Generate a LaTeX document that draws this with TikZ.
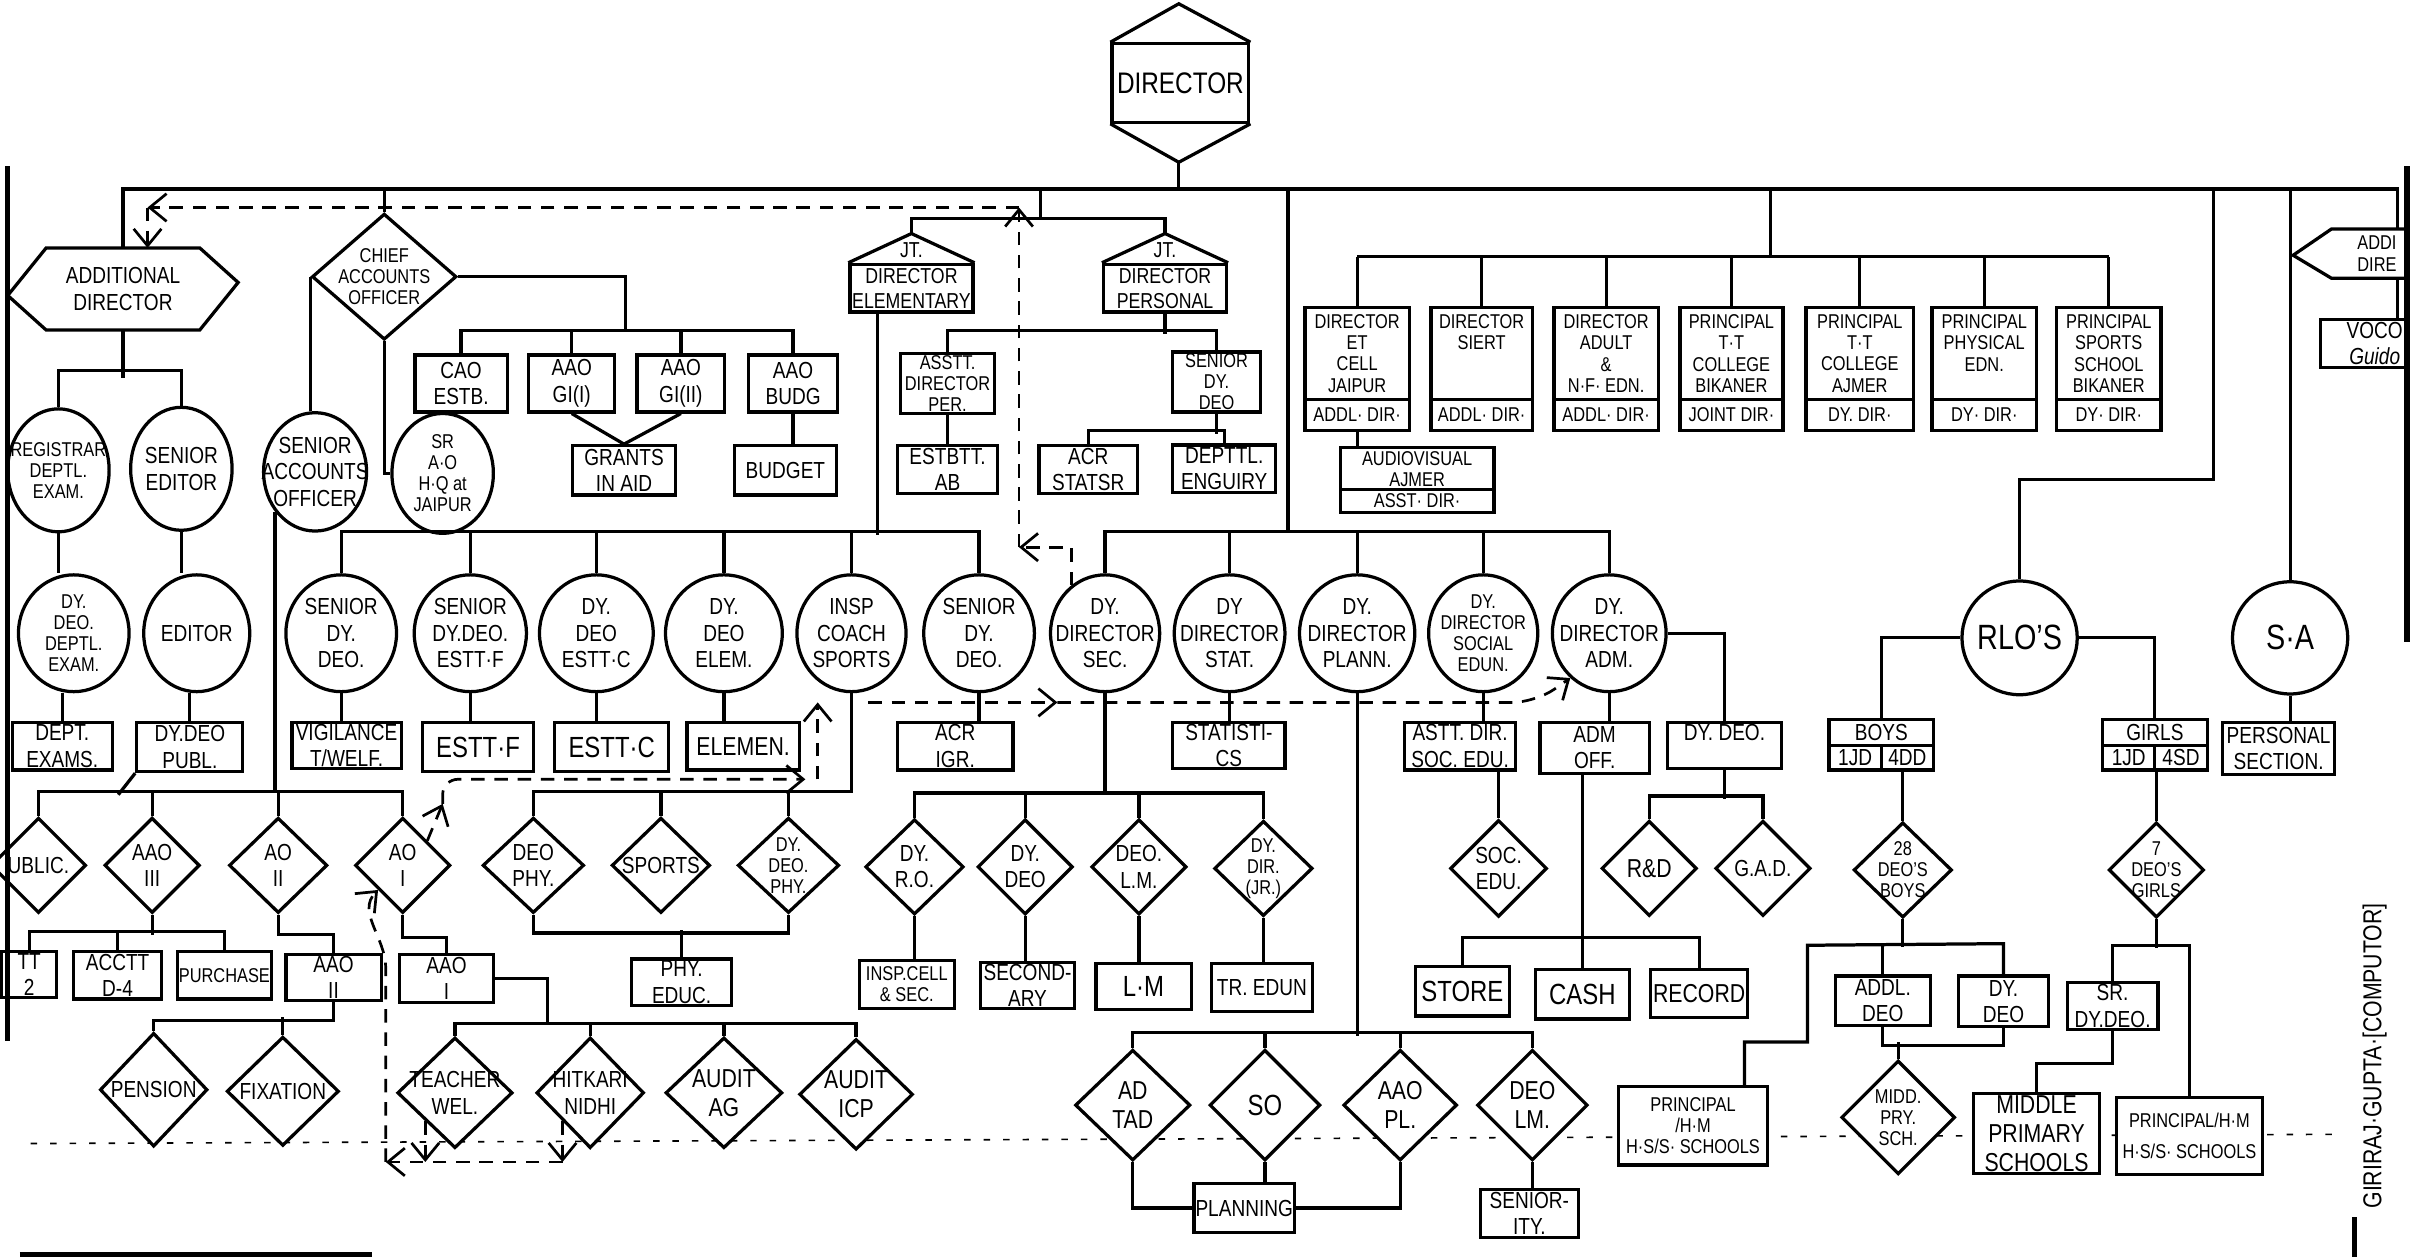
\documentclass[tikz,border=0pt]{standalone}
\usepackage{fontspec}
\setmainfont{Liberation Sans}[FakeStretch=0.82]
\usetikzlibrary{shapes.geometric,arrows.meta}

\begin{document}
\begin{tikzpicture}[x=0.1mm,y=-0.1mm,line width=0.6pt,
	every node/.style={font=\fontsize{4.3}{4.9}\selectfont,align=center},
	box/.style={draw,rectangle,fill=white,inner sep=0.3pt},
	circ/.style={draw,ellipse,fill=white,inner sep=-4pt,minimum width=7.2mm,minimum height=7.6mm},
	dia/.style={draw,diamond,fill=white,inner sep=-4pt,minimum width=6.2mm,minimum height=6.2mm},
	wh/.style 2 args={minimum width=#1mm,minimum height=#2mm},
	fsmall/.style={font=\fontsize{3.7}{3.9}\selectfont},
	fmid/.style={font=\fontsize{4.8}{5.4}\selectfont},
	fbig/.style={font=\fontsize{5.4}{6.2}\selectfont},
	dline/.style={line width=0.5pt,dash pattern=on 2.5pt off 1.8pt,-{Straight Barb[length=1.1mm,width=1.8mm]}}]
	\useasboundingbox (0,0) rectangle (1568,818);
	\clip (0,0) rectangle (1568,818);

	% guide line
	\draw[line width=0.3pt,dash pattern=on 1.2pt off 2.4pt] (20,744) -- (1520,738);

	% top
	\coordinate (bus) at (0,123);
	\coordinate (bus2) at (0,516);
	\node[box,wh={8.9}{5.1},font=\fontsize{5.5}{6}\selectfont] (dir) at (768,54) {DIRECTOR};
	\draw (dir.north west) -- ++(44.5,-25) coordinate (dirtop) -- (dir.north east);
	\draw (dir.south west) -- ++(44.5,25) coordinate (dirbot) -- (dir.south east);

	\node[wh={8.4}{4.5}] (addl) at (80,188) {ADDITIONAL\\DIRECTOR};
	\draw (addl.north west) -- (addl.north east) -- ++(25,22.5) -- (addl.south east)
		-- (addl.south west) -- ++(-25,-22.5) coordinate (addlw) -- cycle;
	\node[wh={8.4}{3}] (addl2) at (1560,165) {};
	\draw (addl2.north west) -- (addl2.north east) -- ++(25,15) -- (addl2.south east)
		-- (addl2.south west) -- ++(-25,-15) -- cycle;
	\node[fsmall,anchor=west] (addl2t) at (1521,165) {ADDI\\DIRE};
	\node[box,wh={10}{3.1}] (voco) at (1560,223.5) {};
	\node[anchor=west] (vocot) at (1514,223.5) {VOCO\\\textit{Guido}};

	\node[dia,fsmall,wh={9.4}{8.2}] (chief) at (250,180) {CHIEF\\ACCOUNTS\\OFFICER};

	\node[box,wh={8}{3.1},font=\fontsize{4}{4.6}\selectfont] (jte) at (593,187.5) {DIRECTOR\\ELEMENTARY};
	\draw (jte.north west) -- ([yshift=1.9mm]jte.north) coordinate (jtetop) -- (jte.north east);
	\node[font=\fontsize{4}{4.6}\selectfont] (jteT) at (593,163) {JT.};
	\node[box,wh={8}{3.1},font=\fontsize{4}{4.6}\selectfont] (jtp) at (758,187.5) {DIRECTOR\\PERSONAL};
	\draw (jtp.north west) -- ([yshift=1.9mm]jtp.north) coordinate (jtptop) -- (jtp.north east);
	\node[font=\fontsize{4}{4.6}\selectfont] (jtpT) at (758,163) {JT.};

	% accounts
	\node[box,wh={6}{3.7}] (cao) at (300,249.5) {CAO\\ESTB.};
	\node[box,wh={5.6}{3.7}] (gi1) at (372,249.5) {AAO\\GI(I)};
	\node[box,wh={5.7}{3.7}] (gi2) at (443,249.5) {AAO\\GI(II)};
	\node[box,wh={5.8}{3.7}] (bud) at (516,249.5) {AAO\\BUDG};
	\node[box,wh={6.7}{3.2}] (grants) at (406,306) {GRANTS\\IN AID};
	\node[box,wh={6.6}{3.2}] (budget) at (511,306) {BUDGET};

	% personal
	\node[box,fsmall,wh={6.1}{3.9}] (asst) at (616.5,249.5) {ASSTT.\\DIRECTOR\\PER.};
	\node[box,fsmall,wh={5.7}{3.9}] (sdeo1) at (791.5,248.5) {SENIOR\\DY.\\DEO};
	\node[box,wh={6.5}{3.1}] (estbtt) at (616.5,305.5) {ESTBTT.\\AB};
	\node[box,wh={6.4}{3.1}] (acr1) at (708,305.5) {ACR\\STATSR};
	\node[box,wh={6.7}{3.1}] (enq) at (796.5,305) {DEPTTL.\\ENGUIRY};

	% directors row
	\foreach \n/\x/\w/\t/\r in {
		etc/883/6.8/{DIRECTOR\\ET\\CELL\\JAIPUR}/{ADDL· DIR·},
		siert/964/6.6/{DIRECTOR\\SIERT\\~\\~}/{ADDL· DIR·},
		adult/1045/6.8/{DIRECTOR\\ADULT\\\&\\N·F· EDN.}/{ADDL· DIR·},
		ttb/1126.5/6.7/{PRINCIPAL\\T·T\\COLLEGE\\BIKANER}/{JOINT DIR·},
		tta/1210/7/{PRINCIPAL\\T·T\\COLLEGE\\AJMER}/{DY. DIR·},
		phy/1291/6.8/{PRINCIPAL\\PHYSICAL\\EDN.\\~}/{DY· DIR·},
		spo/1372/6.8/{PRINCIPAL\\SPORTS\\SCHOOL\\BIKANER}/{DY· DIR·}}{
		\node[box,fsmall,wh={\w}{6}] (\n) at (\x,230) {\t};
		\node[box,fsmall,wh={\w}{2}] (r\n) at (\x,270) {\r};
		\draw (\n.north) -- ++(0,-32);
	}
	\draw ([yshift=3.2mm]etc.north) -- ([yshift=3.2mm]spo.north);
	\node[box,fsmall,wh={10}{2.8}] (audio) at (922,305) {AUDIOVISUAL\\AJMER};
	\node[box,fsmall,wh={10}{1.5}] (raudio) at (922,326) {ASST· DIR·};

	% circles
	\node[circ,fsmall,wh={6.6}{8}] (reg) at (38,306) {REGISTRAR\\DEPTL.\\EXAM.};
	\node[circ,wh={6.6}{8}] (sed) at (118,305) {SENIOR\\EDITOR};
	\node[circ,wh={6.7}{7.7}] (sao) at (205,307) {SENIOR\\ACCOUNTS\\OFFICER};
	\node[circ,fsmall,wh={6.6}{7.8}] (srao) at (288,308) {SR\\A·O\\H·Q at\\JAIPUR};

	\node[circ,fsmall] (dydeoEx) at (48,412) {DY.\\DEO.\\DEPTL.\\EXAM.};
	\node[circ,wh={6.9}{7.6}] (editor) at (128,412) {EDITOR};
	\node[circ] (sdd) at (222,412) {SENIOR\\DY.\\DEO.};
	\node[circ,wh={7.3}{7.6}] (sddf) at (306,412) {SENIOR\\DY.DEO.\\ESTT·F};
	\node[circ,wh={7.4}{7.6}] (ddc) at (388,412) {DY.\\DEO\\ESTT·C};
	\node[circ,wh={7.6}{7.6}] (dde) at (471,412) {DY.\\DEO\\ELEM.};
	\node[circ,wh={7.1}{7.6}] (insp) at (554,412) {INSP\\COACH\\SPORTS};
	\node[circ] (sdd2) at (637,412) {SENIOR\\DY.\\DEO.};
	\node[circ,wh={7.1}{7.6}] (dsec) at (719,412) {DY.\\DIRECTOR\\SEC.};
	\node[circ] (dstat) at (800,412) {DY\\DIRECTOR\\STAT.};
	\node[circ,wh={7.5}{7.6}] (dplan) at (883,412) {DY.\\DIRECTOR\\PLANN.};
	\node[circ,fsmall,wh={7.1}{7.6}] (dsoc) at (965,412) {DY.\\DIRECTOR\\SOCIAL\\EDUN.};
	\node[circ,wh={7.4}{7.6}] (dadm) at (1047,412) {DY.\\DIRECTOR\\ADM.};
	\node[circ,wh={7.5}{7.4},font=\fontsize{6.5}{7}\selectfont] (rlo) at (1314,415) {RLO'S};
	\node[circ,wh={7.5}{7.3},font=\fontsize{6.5}{7}\selectfont] (sa) at (1490,415) {S·A};

	% boxes under circles
	\node[box,wh={6.5}{3.1}] (deptex) at (40.5,485.5) {DEPT.\\EXAMS.};
	\node[box,wh={6.9}{3.2}] (publ) at (123.5,486) {DY.DEO\\PUBL.};
	\node[box,wh={7.1}{3}] (vig) at (225.5,485) {VIGILANCE\\T/WELF.};
	\node[box,fbig,wh={7.2}{3.2}] (esttf) at (311,486) {ESTT·F};
	\node[box,fbig,wh={7.4}{3.2}] (esttc) at (398,486) {ESTT·C};
	\node[box,fmid,wh={7.3}{3.1}] (elemen) at (483.5,485.5) {ELEMEN.};
	\node[box,wh={7.5}{3.1}] (acr2) at (621.5,485.5) {ACR\\IGR.};
	\node[box,wh={7.3}{3}] (stats) at (799.5,485) {STATISTI-\\CS};
	\node[box,wh={7.2}{3.1}] (asdsoc) at (950,485.5) {ASTT. DIR.\\SOC. EDU.};
	\node[box,wh={7.1}{3.3}] (admoff) at (1037.5,486.5) {ADM\\OFF.};
	\node[box,wh={7.4}{3}] (dydeo3) at (1122,485) {DY. DEO.\\~};
	\node[box,wh={6.8}{1.7}] (boys) at (1224,476.5) {BOYS};
	\node[box,wh={3.4}{1.6}] (boys1) at (1207,493) {1JD};
	\node[box,wh={3.4}{1.6}] (boys2) at (1241,493) {4DD};
	\node[box,wh={6.8}{1.7}] (girls) at (1402,476.5) {GIRLS};
	\node[box,wh={3.4}{1.6}] (girls1) at (1385,493) {1JD};
	\node[box,wh={3.4}{1.6}] (girls2) at (1419,493) {4SD};
	\node[box,wh={7.3}{3.4}] (pers) at (1482.5,487) {PERSONAL\\SECTION.};

	% diamonds
	\node[dia] (pub) at (25,563) {UBLIC.};
	\node[dia] (aao3) at (99,563) {AAO\\III};
	\node[dia,wh={6.4}{6.2}] (ao2) at (181,563) {AO\\II};
	\node[dia] (ao1) at (262,563) {AO\\I};
	\node[dia,wh={6.6}{6.2}] (deophy) at (347,563) {DEO\\PHY.};
	\node[dia,wh={6.4}{6.2}] (sports) at (430,563) {SPORTS};
	\node[dia,fsmall,wh={6.6}{6.2}] (dydeophy) at (513,563) {DY.\\DEO.\\PHY.};
	\node[dia,wh={6.4}{6.2}] (dyro) at (595,564) {DY.\\R.O.};
	\node[dia] (dydeo4) at (667,564) {DY.\\DEO};
	\node[dia] (deolm) at (741,564) {DEO.\\L.M.};
	\node[dia,fsmall,wh={6.4}{6.2}] (dydirjr) at (822,565) {DY.\\DIR.\\(JR.)};
	\node[dia,wh={6.3}{6.3}] (socedu) at (975,565) {SOC.\\EDU.};
	\node[dia,fmid] (rnd) at (1073,565) {R\&D};
	\node[dia] (gad) at (1147,565) {G.A.D.};
	\node[dia,fsmall,wh={6.4}{6.2}] (deo28) at (1238,566) {28\\DEO'S\\BOYS};
	\node[dia,fsmall] (deo7) at (1403,566) {7\\DEO'S\\GIRLS};

	% third row
	\node[box,wh={3.6}{3}] (tt2) at (19,634) {TT\\2};
	\node[box,wh={5.7}{3.1}] (acctt) at (76.5,634.5) {ACCTT\\D-4};
	\node[box,fsmall,wh={6.1}{3.1}] (purch) at (146,634.5) {PURCHASE};
	\node[box,wh={6.2}{3}] (aao2) at (217,636) {AAO\\II};
	\node[box,wh={6.1}{3.1}] (aao1) at (290.5,636.5) {AAO\\I};
	\node[box,wh={6.5}{3}] (phyed) at (443.5,639) {PHY.\\EDUC.};
	\node[box,fsmall,wh={6.2}{3.1}] (inspcell) at (590,640.5) {INSP.CELL\\\& SEC.};
	\node[box,wh={6.1}{3}] (second) at (668.5,641) {SECOND-\\ARY};
	\node[box,fbig,wh={6.2}{3}] (lm) at (744,642) {L·M};
	\node[box,wh={6.6}{3.1}] (tredun) at (821,642.5) {TR. EDUN};
	\node[box,fbig,wh={6.1}{3.2}] (store) at (951.5,645) {STORE};
	\node[box,fbig,wh={6.1}{3.2}] (cash) at (1029.5,647) {CASH};
	\node[box,fmid,wh={6.3}{3.1}] (record) at (1105.5,646.5) {RECORD};
	\node[box,wh={6.2}{3.2}] (addldeo) at (1225,651) {ADDL.\\DEO};
	\node[box,wh={5.9}{3.3}] (dydeo5) at (1303.5,651.5) {DY.\\DEO};
	\node[box,wh={5.9}{3.1}] (srdydeo) at (1374.5,654.5) {SR.\\DY.DEO.};

	% bottom row
	\node[dia,wh={7}{7.4}] (pension) at (100,709) {PENSION};
	\node[dia,wh={7.3}{7.1}] (fixation) at (184,710) {FIXATION};
	\node[dia,wh={7.5}{7.2}] (teacher) at (296,711) {TEACHER\\WEL.};
	\node[dia,wh={7}{7.2}] (hitkari) at (384,711) {HITKARI\\NIDHI};
	\node[dia,fmid,wh={7.6}{7.2}] (auditag) at (471,711) {AUDIT\\AG};
	\node[dia,fmid,wh={7.4}{7.2}] (auditicp) at (557,712) {AUDIT\\ICP};
	\node[dia,fmid,wh={7.5}{7.2}] (adtad) at (737,719) {AD\\TAD};
	\node[dia,fbig,wh={7.2}{7.2}] (so) at (823,719) {SO};
	\node[dia,fmid,wh={7.4}{7.2}] (aaopl) at (911,719) {AAO\\PL.};
	\node[dia,fmid,wh={7.2}{7.2}] (deolm2) at (997,719) {DEO\\LM.};
	\node[box,wh={6.5}{3.2}] (planning) at (809.5,786) {PLANNING};
	\node[box,wh={6.4}{3.1}] (seniority) at (995,789.5) {SENIOR-\\ITY.};
	\node[box,fsmall,wh={9.7}{5.1}] (pleft) at (1101.5,732.5) {PRINCIPAL\\/H·M\\H·S/S· SCHOOLS};
	\node[dia,fsmall,wh={7.4}{7.4}] (middpry) at (1235,727) {MIDD.\\PRY.\\SCH.};
	\node[box,fmid,wh={8.2}{5.1}] (middle) at (1325,737.5) {MIDDLE\\PRIMARY\\SCHOOLS};
	\node[box,fsmall,wh={9.5}{5}] (pright) at (1424.5,739) {PRINCIPAL/H·M\\[2pt]H·S/S· SCHOOLS};

	% main connectors
	\draw (addl.north) |- (bus -| addl2.north) -- (addl2.north);
	\draw (addl2.south) -- (addl2.south |- voco.north);
	\draw (chief.north) -- (chief.north |- bus);
	\draw (dirbot) -- (dirbot |- bus);
	\draw (677,123) -- (677,143);
	\draw (jtetop) -- ++(0,-10) -| (jtptop);
	\draw (838,123) -- (838,347);
	\draw (1152,123) -- (1152,168);
	\draw (1440,123) -- (1440,312) -| (rlo.north);
	\draw (sa.north) -- (sa.north |- bus);

	% left side
	\draw (addl.south) -- ++(0,31);
	\draw (reg.north) -- ++(0,-24) -| (sed.north);
	\draw (reg.south) -- (reg.south |- dydeoEx.north);
	\draw (sed.south) -- (sed.south |- editor.north);
	\draw (deptex.north) -- (deptex.north |- dydeoEx.south);
	\draw (publ.north) -- (publ.north |- editor.south);
	\draw (chief.west) -- (chief.west |- sao.north);
	\draw (chief.south) |- (srao.west);
	\draw (chief.east) -| (407,216);
	\draw (cao.north) -- ++(0,-15) -| (bud.north);
	\draw (gi1.north) -- ++(0,-15);
	\draw (gi2.north) -- ++(0,-15);
	\draw (gi1.south) -- (grants.north);
	\draw (gi2.south) -- (grants.north);
	\draw (bud.south) -- (bud.south |- budget.north);

	% jt directors
	\draw (jtp.south) -- ++(0,13);
	\draw (asst.north) -- ++(0,-14) -| (sdeo1.north);
	\draw (asst.south) -- (asst.south |- estbtt.north);
	\draw (sdeo1.south) -- ++(0,13);
	\draw (acr1.north) -- ++(0,-9) -| (enq.north);
	\draw (retc.south) -- (retc.south |- audio.north);

	% circle buses
	\draw ([xshift=-2.2mm]jte.south) -- ++(0,144);
	\draw (sdd.north) -- ++(0,-27) -| (sdd2.north);
	\foreach \n in {sddf,ddc,dde,insp} \draw (\n.north) -- ++(0,-27);
	\draw (dsec.north) -- ++(0,-27) -| (dadm.north);
	\foreach \n in {dstat,dplan,dsoc} \draw (\n.north) -- ++(0,-27);
	\draw (sdd.south) -- (sdd.south |- vig.north);
	\draw (sddf.south) -- (sddf.south |- esttf.north);
	\draw (ddc.south) -- (ddc.south |- esttc.north);
	\draw (dde.south) -- (dde.south |- elemen.north);
	\draw (sdd2.south) -- (sdd2.south |- acr2.north);
	\draw (dstat.south) -- (dstat.south |- stats.north);
	\draw (dsoc.south) -- (dsoc.south |- asdsoc.north);
	\draw (dadm.south) -- (dadm.south |- admoff.north);
	\draw (dadm.east) -| (dydeo3.north);
	\draw (rlo.west) -| (boys.north);
	\draw (rlo.east) -| (girls.north);
	\draw (sa.south) -- (sa.south |- pers.north);

	% diamond buses
	\draw (pub.north) -- ++(0,-16) -| (ao1.north);
	\draw (aao3.north) -- ++(0,-16);
	\draw (ao2.north) -- ++(0,-16);
	\draw (sao.225) -- (sao.225 |- bus2);
	\draw (publ.south west) -- ++(-11,14);
	\draw (deophy.north) -- ++(0,-16) -| (insp.south);
	\draw (sports.north) -- ++(0,-16);
	\draw (dydeophy.north) -- ++(0,-16);
	\draw (dsec.south) -- (dsec.south |- bus2);
	\draw (dyro.north) -- ++(0,-16) -| (dydirjr.north);
	\draw (dydeo4.north) -- ++(0,-16);
	\draw (deolm.north) -- ++(0,-16);
	\draw (socedu.north) -- (socedu.north |- asdsoc.south);
	\draw (dydeo3.south) -- ++(0,19);
	\draw (rnd.north) -- ++(0,-15) -| (gad.north);
	\draw (deo28.north) -- (deo28.north |- boys1.south);
	\draw (deo7.north) -- (deo7.north |- girls1.south);

	% third row links
	\draw (aao3.south) -- ++(0,13);
	\draw (tt2.north) -- ++(0,-12) -| (purch.north);
	\draw (acctt.north) -- ++(0,-12);
	\draw (ao2.south) -- ++(0,13) -| (aao2.north);
	\draw (ao1.south) -- ++(0,15) -| (aao1.north);
	\draw (deophy.south) -- ++(0,12) -| (dydeophy.south);
	\draw (phyed.north) -- ++(0,-18);
	\draw (dyro.south) -- (dyro.south |- inspcell.north);
	\draw (dydeo4.south) -- (dydeo4.south |- second.north);
	\draw (deolm.south) -- (deolm.south |- lm.north);
	\draw (dydirjr.south) -- (dydirjr.south |- tredun.north);
	\draw (cash.north) -- (cash.north |- admoff.south);
	\draw (store.north) -- ++(0,-18) -| (record.north);
	\coordinate (gA) at (1176,615);
	\coordinate (gB) at (1176,678);
	\draw (deo28.south) -- ++(0,18);
	\draw (dydeo5.north) -- ++(0,-20) -- (gA) -- (gB) -| ([xshift=3.35mm]pleft.north);
	\draw (addldeo.north) -- ++(0,-20);
	\draw (addldeo.south) -- ++(0,12) -| (dydeo5.south);
	\draw (middpry.north) -- ++(0,-11);
	\draw (deo7.south) -- ++(0,19);
	\draw (srdydeo.north) -- ++(0,-23) -| (pright.north);
	\draw (srdydeo.south) -- ++(0,21) -| (middle.north);

	% bottom links
	\draw (aao2.south) -- ++(0,12) -| (pension.north);
	\draw (fixation.north) -- ++(0,-12);
	\draw (aao1.east) -| (356,667);
	\draw (teacher.north) -- ++(0,-8) -| (auditicp.north);
	\draw (hitkari.north) -- ++(0,-8);
	\draw (auditag.north) -- ++(0,-8);
	\draw (dplan.south) -- ++(0,223);
	\draw (adtad.north) -- ++(0,-10) -| (deolm2.north);
	\draw (so.north) -- ++(0,-10);
	\draw (aaopl.north) -- ++(0,-10);
	\draw (adtad.south) |- (planning.west);
	\draw (so.south) -- (so.south |- planning.north);
	\draw (aaopl.south) |- (planning.east);
	\draw (deolm2.south) -- (deolm2.south |- seniority.north);

	% dashed links
	\coordinate (dA) at (663,356);
	\coordinate (dB) at (663,135);
	\coordinate (dC) at (96,135);
	\draw[dline] (dsec.125) |- (dA);
	\draw[dline] (dA) -- (dB);
	\draw[dline] (dB) -- (dC);
	\draw[dline] (dC) -- (dC |- addl.north);
	\coordinate (eA) at (288,523);
	\coordinate (eB) at (532,507);
	\coordinate (eC) at (532,457);
	\coordinate (eD) at (565,457);
	\coordinate (eE) at (688,457);
	\coordinate (eF) at (999,457);
	\draw[dline] (ao1.north east) -- (eA);
	\draw[dline,rounded corners=1mm] (eA) |- ([xshift=-0.8mm]eB);
	\draw[dline] (eB) -- (eC);
	\draw[dline] (eD) -- (eE);
	\draw[dline,rounded corners=1.5mm] (eE) -- (eF) -- (dadm.229);
	\coordinate (fY) at (0,756);
	\coordinate (fA) at (251,756);
	\coordinate (fB) at (251,630);
	\draw[dline] (teacher.south west) -- (teacher.south west |- fY);
	\draw[dline] (hitkari.south west) -- (hitkari.south west |- fY);
	\draw[dline] (hitkari.south west |- fY) -- (fA);
	\draw[dline] (fA) -- (fB) to[out=90,in=225] (ao1.south west);

	% page edges and signature
	\coordinate (lb) at (5,188);
	\draw (lb) -- (addlw);
	\draw[line width=1pt] (5,108) -- (5,677);
	\draw[line width=1pt] (13,816) -- (242,816);
	\draw[line width=1pt] (1566,108) -- (1566,418);
	\draw[line width=1pt] (1532,792) -- (1532,818);
	\node[rotate=90,font=\fontsize{4.8}{5}\selectfont] (sign) at (1545,687) {GIRIRAJ·GUPTA·[COMPUTOR]};
\end{tikzpicture}
\end{document}
